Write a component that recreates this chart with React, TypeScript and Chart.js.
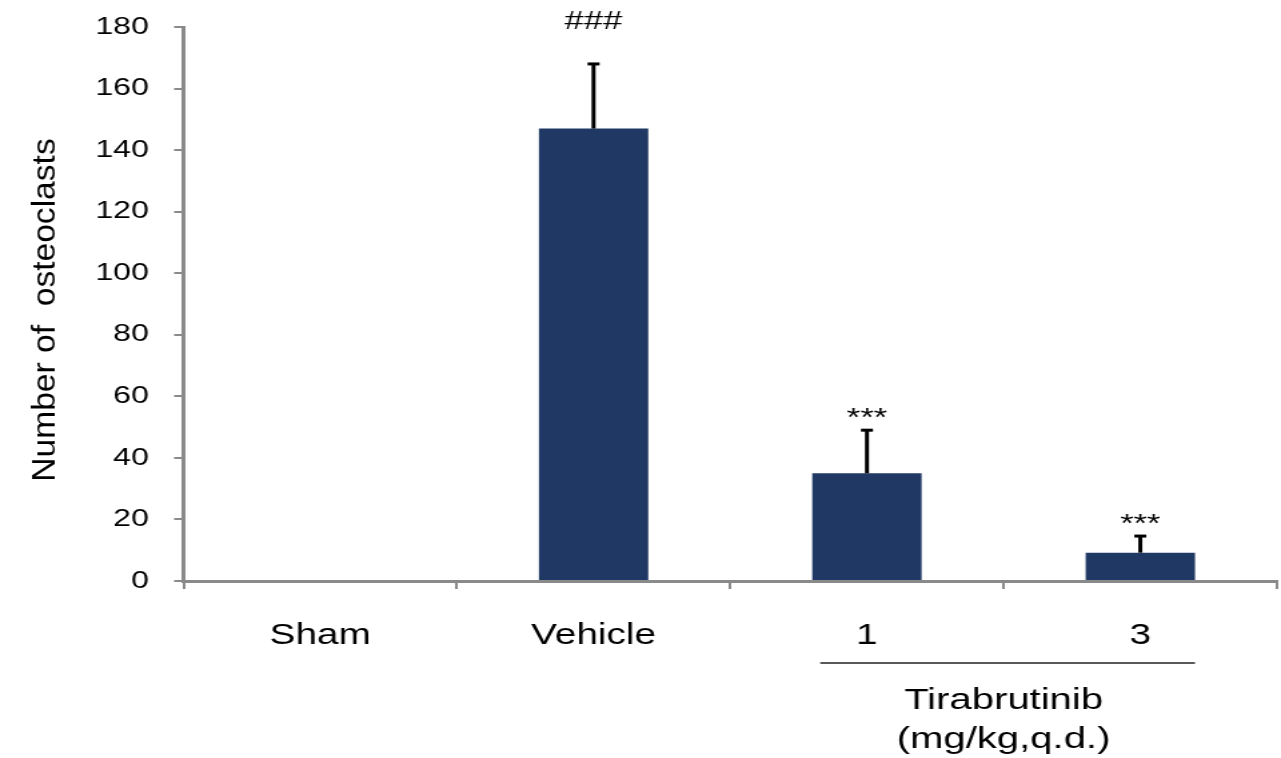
import { useEffect, useRef } from 'react';
import { Chart, registerables } from 'chart.js';

Chart.register(...registerables);

// Treatment groups and osteoclast counts (mean and SEM)
const groups = ['Sham', 'Vehicle', '1', '3'];
const osteoclastMeans = [0, 147, 35, 9.2];
const osteoclastSEM = [0, 21, 14, 5.4];
const significance = ['', '###', '***', '***'];
const yTickValues = [0, 20, 40, 60, 80, 100, 120, 140, 160, 180];
const yAxisTitle = 'Number of  osteoclasts';
const drugName = 'Tirabrutinib';
const doseUnit = '(mg/kg,q.d.)';

// The figure is drawn on a narrower canvas and stretched horizontally for display
const CANVAS_W = 960;
const CANVAS_H = 758;
const DISPLAY_W = 1281;
const FONT = '"Liberation Sans", Arial, Helvetica, sans-serif';
const AXIS_GREY = '#8a8a8a';
const BAR_NAVY = '#203864';

const annotationPlugin = {
  id: 'osteoclastAnnotations',
  afterDatasetsDraw(chart: any) {
    const { ctx } = chart;
    const y = chart.scales.y;
    const meta = chart.getDatasetMeta(0);
    ctx.save();
    meta.data.forEach((bar: any, i: number) => {
      const err = osteoclastSEM[i];
      const base = y.getPixelForValue(osteoclastMeans[i]);
      const top = y.getPixelForValue(osteoclastMeans[i] + err);
      if (err > 0) {
        // upward error bar with cap
        ctx.strokeStyle = '#000';
        ctx.lineWidth = 3;
        ctx.beginPath();
        ctx.moveTo(bar.x, base);
        ctx.lineTo(bar.x, top);
        ctx.stroke();
        ctx.beginPath();
        ctx.moveTo(bar.x - 4.5, top);
        ctx.lineTo(bar.x + 4.5, top);
        ctx.stroke();
      }
      const mark = significance[i];
      if (mark) {
        ctx.fillStyle = '#000';
        ctx.font = `26px ${FONT}`;
        ctx.textAlign = 'center';
        ctx.textBaseline = 'middle';
        const gap = mark.startsWith('#') ? 42 : 11;
        ctx.fillText(mark, bar.x, top - gap);
      }
    });
    ctx.restore();
  },
  afterDraw(chart: any) {
    const { ctx, chartArea } = chart;
    const meta = chart.getDatasetMeta(0);
    const low = meta.data[2];
    const high = meta.data[3];
    ctx.save();

    // bracket under the two Tirabrutinib doses
    const lineY = chartArea.bottom + 82;
    const left = low.x - low.width / 2 + 6;
    const right = high.x + high.width / 2;
    ctx.strokeStyle = '#222';
    ctx.lineWidth = 1.6;
    ctx.beginPath();
    ctx.moveTo(left, lineY);
    ctx.lineTo(right, lineY);
    ctx.stroke();

    const cx = (low.x + high.x) / 2;
    ctx.fillStyle = '#000';
    ctx.font = `30px ${FONT}`;
    ctx.textAlign = 'center';
    ctx.textBaseline = 'middle';
    ctx.fillText(drugName, cx, chartArea.bottom + 120);
    ctx.fillText(doseUnit, cx, chartArea.bottom + 159);

    // y axis title, rotated
    ctx.translate(41.2, 310);
    ctx.rotate(-Math.PI / 2);
    ctx.scale(1.46, 1);
    ctx.font = `23px ${FONT}`;
    ctx.textBaseline = 'alphabetic';
    ctx.fillText(yAxisTitle, 0, 0);
    ctx.restore();
  },
};

export default function App() {
  const canvasRef = useRef<HTMLCanvasElement | null>(null);

  useEffect(() => {
    const canvas = canvasRef.current;
    if (!canvas) return;
    const chart = new Chart(canvas, {
      type: 'bar',
      data: {
        labels: groups,
        datasets: [
          {
            data: osteoclastMeans,
            backgroundColor: BAR_NAVY,
            borderWidth: 0,
            barPercentage: 0.4,
            categoryPercentage: 1.0,
          },
        ],
      },
      options: {
        responsive: false,
        animation: false,
        devicePixelRatio: 1,
        layout: { padding: { top: 27, right: 3, left: 0, bottom: 0 } },
        plugins: {
          legend: { display: false },
          tooltip: { enabled: false },
        },
        scales: {
          x: {
            type: 'category',
            offset: true,
            grid: {
              offset: true,
              drawOnChartArea: false,
              drawTicks: true,
              tickLength: 8,
              color: AXIS_GREY,
              lineWidth: 2,
            },
            border: { display: true, color: AXIS_GREY, width: 3 },
            ticks: {
              color: '#000',
              font: { family: FONT, size: 29 },
              padding: 30,
              maxRotation: 0,
              autoSkip: false,
            },
            afterFit(scale: any) {
              scale.height = 177;
            },
          },
          y: {
            min: 0,
            max: 180,
            afterBuildTicks(scale: any) {
              scale.ticks = yTickValues.map((v) => ({ value: v }));
            },
            grid: {
              drawOnChartArea: false,
              drawTicks: true,
              tickLength: 7,
              color: AXIS_GREY,
              lineWidth: 2,
            },
            border: { display: true, color: AXIS_GREY, width: 3 },
            ticks: {
              color: '#000',
              font: { family: FONT, size: 24 },
              padding: 19,
            },
            afterFit(scale: any) {
              scale.width = 137.5;
              // the outer layout padding already leaves room for the end labels
              scale.paddingTop = 0;
              scale.paddingBottom = 0;
            },
          },
        },
      },
      plugins: [annotationPlugin],
    });
    return () => chart.destroy();
  }, []);

  return (
    <div
      style={{
        position: 'absolute',
        left: 0,
        top: 0,
        width: DISPLAY_W,
        height: CANVAS_H,
        background: '#fff',
      }}
    >
      <canvas
        ref={canvasRef}
        width={CANVAS_W}
        height={CANVAS_H}
        style={{ display: 'block', width: `${DISPLAY_W}px`, height: `${CANVAS_H}px` }}
      />
    </div>
  );
}
